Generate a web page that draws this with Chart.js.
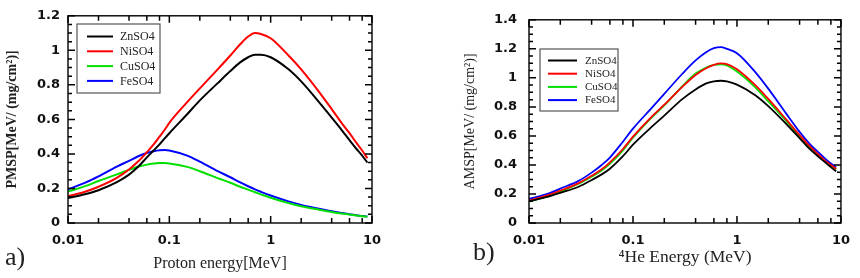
<!DOCTYPE html>
<html>
<head>
<meta charset="utf-8">
<script src="https://cdn.jsdelivr.net/npm/chart.js@4.4.1/dist/chart.umd.min.js"></script>
<style>
  html, body { margin: 0; padding: 0; background: #fff; }
  #wrap { position: relative; width: 860px; height: 278px; overflow: hidden; }
  .panel { position: absolute; top: 0; width: 430px; height: 278px; }
  .tag { position: absolute; font-family: "Liberation Serif", "DejaVu Serif", serif; font-size: 26px; color: #222; }
</style>
</head>
<body>
<div id="wrap">
  <div class="panel" style="left:0"><canvas id="chartA" width="430" height="278"></canvas></div>
  <div class="panel" style="left:430px"><canvas id="chartB" width="430" height="278"></canvas></div>
  <div class="tag" style="left:5px; top:242px;">a)</div>
  <div class="tag" style="left:473px; top:237px;">b)</div>
</div>
<script>
// ---- panel a: proton stopping power ----
const energyA = [0.01, 0.015, 0.02, 0.03, 0.04, 0.05, 0.06, 0.07, 0.08, 0.09, 0.1, 0.15, 0.2, 0.3, 0.4, 0.5, 0.6, 0.7, 0.8, 1, 1.5, 2, 3, 4, 5, 6, 7, 8, 9];
const znA = [0.144, 0.168, 0.19, 0.235, 0.28, 0.33, 0.38, 0.42, 0.455, 0.49, 0.52, 0.63, 0.71, 0.81, 0.88, 0.93, 0.96, 0.975, 0.975, 0.96, 0.89, 0.82, 0.70, 0.61, 0.54, 0.48, 0.43, 0.39, 0.35];
const niA = [0.155, 0.182, 0.21, 0.26, 0.31, 0.36, 0.41, 0.455, 0.50, 0.54, 0.58, 0.70, 0.78, 0.89, 0.97, 1.035, 1.08, 1.10, 1.095, 1.07, 0.97, 0.89, 0.76, 0.66, 0.58, 0.52, 0.465, 0.42, 0.375];
const cuA = [0.182, 0.215, 0.243, 0.28, 0.308, 0.327, 0.338, 0.344, 0.347, 0.347, 0.345, 0.325, 0.30, 0.26, 0.233, 0.21, 0.193, 0.178, 0.166, 0.146, 0.115, 0.097, 0.077, 0.064, 0.055, 0.049, 0.043, 0.039, 0.036];
const feA = [0.195, 0.235, 0.27, 0.325, 0.36, 0.388, 0.405, 0.416, 0.422, 0.423, 0.42, 0.39, 0.355, 0.30, 0.265, 0.235, 0.213, 0.195, 0.181, 0.159, 0.125, 0.105, 0.082, 0.068, 0.058, 0.051, 0.045, 0.041, 0.037];

// ---- panel b: alpha stopping power ----
const energyB = [0.01, 0.015, 0.02, 0.03, 0.04, 0.05, 0.06, 0.08, 0.1, 0.15, 0.2, 0.3, 0.4, 0.5, 0.6, 0.7, 0.8, 1, 1.5, 2, 3, 4, 5, 6, 7, 8, 9];
const znB = [0.15, 0.18, 0.208, 0.25, 0.296, 0.335, 0.374, 0.46, 0.54, 0.66, 0.74, 0.855, 0.92, 0.96, 0.976, 0.98, 0.975, 0.953, 0.88, 0.805, 0.68, 0.585, 0.51, 0.46, 0.42, 0.385, 0.356];
const niB = [0.155, 0.19, 0.223, 0.275, 0.325, 0.37, 0.418, 0.51, 0.595, 0.73, 0.815, 0.94, 1.02, 1.065, 1.09, 1.10, 1.095, 1.06, 0.95, 0.855, 0.71, 0.606, 0.53, 0.475, 0.43, 0.40, 0.374];
const cuB = [0.148, 0.183, 0.215, 0.27, 0.319, 0.362, 0.407, 0.50, 0.588, 0.725, 0.81, 0.945, 1.03, 1.07, 1.09, 1.093, 1.085, 1.044, 0.935, 0.838, 0.70, 0.595, 0.52, 0.467, 0.425, 0.395, 0.37];
const feB = [0.165, 0.20, 0.237, 0.29, 0.347, 0.40, 0.451, 0.56, 0.65, 0.79, 0.89, 1.03, 1.12, 1.175, 1.205, 1.212, 1.20, 1.17, 1.04, 0.926, 0.75, 0.628, 0.545, 0.49, 0.445, 0.41, 0.385];

const seriesNames = ["ZnSO4", "NiSO4", "CuSO4", "FeSO4"];
const seriesColors = ["#000000", "#ff0000", "#00e000", "#0000ff"];

const xMajor = [0.01, 0.1, 1, 10];
const xMinorMult = [2, 4, 6, 8];
const yMajorA = [0, 0.2, 0.4, 0.6, 0.8, 1, 1.2];
const yMajorB = [0, 0.2, 0.4, 0.6, 0.8, 1, 1.2, 1.4];

function xTickList() {
  let t = [];
  xMajor.forEach((d, i) => {
    t.push({value: d});
    if (i < xMajor.length - 1) xMinorMult.forEach(m => t.push({value: +(d * m).toPrecision(3)}));
  });
  return t;
}
function yTickList(majors) {
  let t = [];
  majors.forEach((v, i) => {
    t.push({value: v});
    if (i < majors.length - 1) for (let k = 1; k < 4; k++) t.push({value: +(v + k * 0.05).toFixed(2)});
  });
  return t;
}

// inward ticks on all four sides + closed frame, placed with the chart's own scales
function frameTicks(yMajor) {
  return {
    id: "frameTicks",
    afterDraw(chart) {
      const {ctx, chartArea: a, scales} = chart;
      ctx.save();
      ctx.strokeStyle = "#000";
      ctx.lineWidth = 1.5;
      ctx.beginPath();
      scales.x.ticks.forEach(t => {
        const px = scales.x.getPixelForValue(t.value);
        const len = xMajor.includes(t.value) ? 7 : 5;
        ctx.moveTo(px, a.bottom); ctx.lineTo(px, a.bottom - len);
        ctx.moveTo(px, a.top); ctx.lineTo(px, a.top + len);
      });
      scales.y.ticks.forEach(t => {
        const py = scales.y.getPixelForValue(t.value);
        const len = yMajor.includes(t.value) ? 7 : 4;
        ctx.moveTo(a.left, py); ctx.lineTo(a.left + len, py);
        ctx.moveTo(a.right, py); ctx.lineTo(a.right - len, py);
      });
      ctx.stroke();
      ctx.lineWidth = 1.4;
      ctx.strokeRect(a.left, a.top, a.right - a.left, a.bottom - a.top);
      ctx.restore();
    }
  };
}

// legend box drawn inside the plot
const boxLegend = {
  id: "boxLegend",
  afterDraw(chart, args, opts) {
    const {ctx} = chart;
    ctx.save();
    ctx.strokeStyle = "#555";
    ctx.lineWidth = 1.2;
    ctx.fillStyle = "#fff";
    ctx.fillRect(opts.x, opts.y, opts.w, opts.h);
    ctx.strokeRect(opts.x, opts.y, opts.w, opts.h);
    ctx.font = opts.font;
    ctx.textBaseline = "middle";
    chart.data.datasets.forEach((ds, i) => {
      const yy = opts.y + opts.firstRow + i * opts.rowGap;
      ctx.strokeStyle = ds.borderColor;
      ctx.lineWidth = 2;
      ctx.beginPath();
      ctx.moveTo(opts.x + opts.lineStart, yy);
      ctx.lineTo(opts.x + opts.lineEnd, yy);
      ctx.stroke();
      ctx.fillStyle = "#222";
      ctx.fillText(ds.label, opts.x + opts.textStart, yy + 0.5);
    });
    ctx.restore();
  }
};

function makeChart(id, energy, values, yMajor, yMax, yTitle, xTitle, cfg) {
  const datasets = values.map((vals, i) => ({
    label: seriesNames[i],
    data: energy.map((e, k) => ({x: e, y: vals[k]})),
    borderColor: seriesColors[i],
    borderWidth: cfg.lineWidth,
    pointRadius: 0,
    fill: false,
    cubicInterpolationMode: "monotone"
  }));
  const tickFont = {family: "DejaVu Sans", weight: "bold", size: 13};
  return new Chart(document.getElementById(id), {
    type: "line",
    data: {datasets: datasets},
    plugins: [frameTicks(yMajor), boxLegend],
    options: {
      responsive: false,
      animation: false,
      layout: {padding: {left: 0, top: 12, right: cfg.padRight, bottom: 0}},
      plugins: {
        legend: {display: false},
        tooltip: {enabled: false},
        boxLegend: cfg.legend
      },
      scales: {
        x: {
          type: "logarithmic",
          min: 0.01, max: 10,
          afterBuildTicks: s => { s.ticks = xTickList(); },
          afterFit: s => { s.height = 55; },
          grid: {display: false, drawTicks: false},
          border: {display: false},
          ticks: {
            autoSkip: false, maxRotation: 0, padding: 10,
            color: "#111", font: tickFont,
            callback: v => xMajor.includes(v) ? String(v) : ""
          },
          title: {
            display: true, text: xTitle, color: "#222",
            font: {family: "Liberation Serif", size: cfg.xTitleSize},
            padding: {top: 0, bottom: cfg.xTitlePad}
          }
        },
        y: {
          type: "linear",
          min: 0, max: yMax,
          afterBuildTicks: s => { s.ticks = yTickList(yMajor); },
          afterFit: s => { s.width = cfg.yWidth; },
          grid: {display: false, drawTicks: false},
          border: {display: false},
          ticks: {
            autoSkip: false, padding: cfg.yTickPad,
            color: "#111", font: tickFont,
            callback: v => yMajor.includes(v) ? String(v) : ""
          },
          title: {
            display: true, text: yTitle, color: "#222",
            font: {family: "Liberation Serif", size: 14, weight: cfg.yTitleWeight},
            padding: {top: cfg.yTitlePad, bottom: 0}
          }
        }
      }
    }
  });
}

makeChart("chartA", energyA, [znA, niA, cuA, feA], yMajorA, 1.2,
  "PMSP[MeV/ (mg/cm²)]", "Proton energy[MeV]",
  {lineWidth: 2, padRight: 58, yWidth: 68, yTickPad: 8, xTitleSize: 16, xTitlePad: 5, yTitlePad: 4, yTitleWeight: "bold",
   legend: {x: 77, y: 24, w: 83, h: 69, firstRow: 12.5, rowGap: 14.8, lineStart: 10, lineEnd: 36, textStart: 43, font: "12px 'Liberation Serif'"}});

makeChart("chartB", energyB, [znB, niB, cuB, feB], yMajorB, 1.4,
  "AMSP[MeV/ (mg/cm²)]", "⁴He Energy (MeV)",
  {lineWidth: 1.8, padRight: 11, yWidth: 99, yTickPad: 12, xTitleSize: 17.5, xTitlePad: 10, yTitlePad: 32, yTitleWeight: "normal",
   legend: {x: 110, y: 49, w: 78, h: 62, firstRow: 11.5, rowGap: 13.2, lineStart: 8, lineEnd: 37, textStart: 45, font: "11px 'Liberation Serif'"}});
</script>
</body>
</html>
